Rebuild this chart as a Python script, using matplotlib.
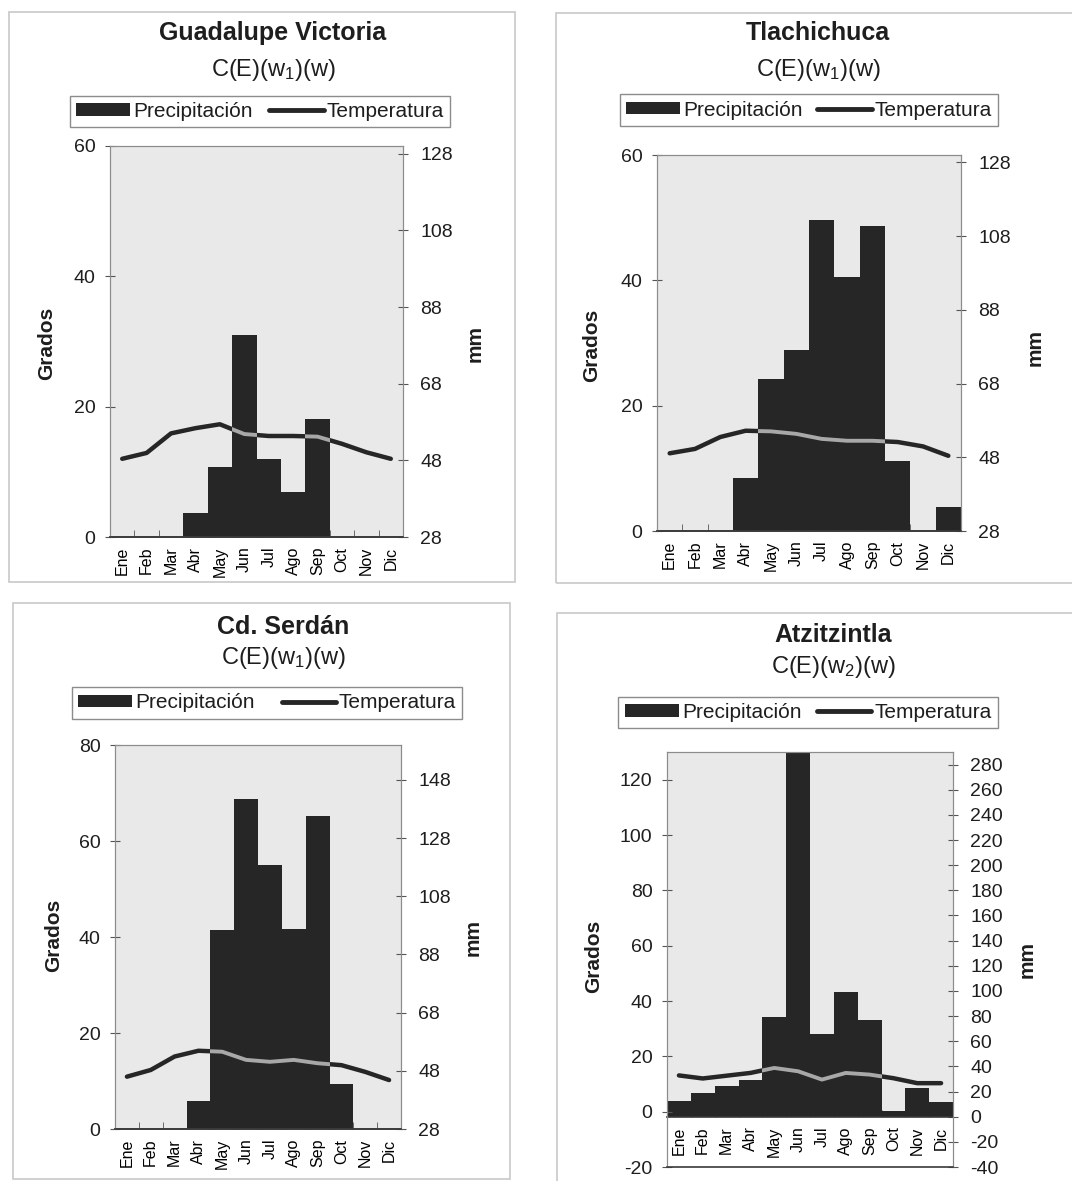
import numpy as np
import matplotlib.pyplot as plt
from matplotlib.patches import Rectangle, Patch
from matplotlib.lines import Line2D

plt.rcParams['font.family'] = ['Liberation Sans', 'DejaVu Sans']
plt.rcParams['mathtext.fontset'] = 'custom'
plt.rcParams['mathtext.rm'] = 'Liberation Sans'
plt.rcParams['mathtext.it'] = 'Liberation Sans'
plt.rcParams['axes.unicode_minus'] = False
plt.rcParams['text.color'] = '#1e1e1e'

meses = ["Ene", "Feb", "Mar", "Abr", "May", "Jun", "Jul", "Ago", "Sep", "Oct", "Nov", "Dic"]

# Guadalupe Victoria (precipitacion en mm, temperatura en grados)
gv_prec = [12, 10, 15, 34.2, 46.3, 80.6, 48.3, 39.8, 58.8, 22, 9, 7]
gv_temp = [12.0, 12.9, 15.9, 16.7, 17.3, 15.8, 15.5, 15.5, 15.4, 14.3, 13.0, 12.0]

# Tlachichuca
tl_prec = [14, 10, 18, 42.4, 69.3, 77.0, 112.5, 96.8, 110.7, 47.0, 20, 34.5]
tl_temp = [12.4, 13.1, 15.0, 16.0, 15.9, 15.5, 14.7, 14.4, 14.4, 14.2, 13.5, 12.0]

# Cd. Serdan
cs_prec = [12, 9, 16, 37.7, 96.4, 141.3, 118.8, 96.7, 135.5, 43.4, 14, 8]
cs_temp = [10.9, 12.3, 15.1, 16.3, 16.1, 14.4, 14.0, 14.4, 13.7, 13.3, 11.9, 10.2]

# Atzitzintla
at_prec = [12.4, 19.1, 24.4, 29.2, 79.4, 300, 66.1, 99.3, 76.7, 4.5, 22.5, 12.0]
at_temp = [13.1, 12.0, 13.0, 14.0, 15.8, 14.6, 11.6, 14.0, 13.4, 12.1, 10.3, 10.3]

W, H = 1072, 1181
fig = plt.figure(figsize=(W / 100, H / 100), dpi=100)

OSCURO = '#262626'
FONDO = '#e9e9e9'
GRIS = '#8c8c8c'


def fx(px):
    return px / W


def fy(py):
    return 1 - py / H


def climograma(caja, marco, titulo, clima, prec, temp, lim_t, ticks_t, lim_p, ticks_p,
               pos_tit, pos_ley, sep_ley, pos_grados, pos_mm, cero=False):
    # marco del panel
    x0, y0, x1, y1 = marco
    fig.patches.append(Rectangle((fx(x0), fy(y1)), (x1 - x0) / W, (y1 - y0) / H,
                                 transform=fig.transFigure, fill=False,
                                 edgecolor='#c8c8c8', lw=1.2))
    x0, y0, x1, y1 = caja
    ax_p = fig.add_axes([fx(x0), fy(y1), (x1 - x0) / W, (y1 - y0) / H], facecolor=FONDO)
    ax_t = ax_p.twinx()
    ax_p.yaxis.tick_right()
    ax_t.yaxis.tick_left()

    x = np.arange(12)
    barras = ax_p.bar(x, prec, width=1.0, color=OSCURO, linewidth=0, zorder=2)
    ax_p.set_xlim(-0.5, 11.5)
    ax_p.set_ylim(lim_p)
    ax_p.set_yticks(ticks_p)
    ax_t.set_ylim(lim_t)
    ax_t.set_yticks(ticks_t)
    if cero:
        ax_p.axhspan(lim_p[0], 0, color='white', zorder=0)
        ax_p.spines['bottom'].set_position(('data', 0))

    ax_t.plot(x, temp, color=OSCURO, lw=3.2, solid_capstyle='round', zorder=3)
    # la linea se ve clara donde pasa sobre las barras
    for b in barras:
        gris, = ax_t.plot(x, temp, color='#a8a8a8', lw=2.8, zorder=4)
        gris.set_clip_path(b)

    ax_p.set_xticks(x)
    ax_p.set_xticklabels(meses, rotation=90, fontsize=11.5)
    ax_p.tick_params(axis='x', which='major', length=0, pad=7)
    ax_p.set_xticks(np.arange(-0.5, 12, 1), minor=True)
    ax_p.tick_params(axis='x', which='minor', direction='in', length=5, color='#555555')
    ax_p.tick_params(axis='y', direction='inout', length=7, pad=9, labelsize=14,
                     color='#555555', labelcolor='#1e1e1e')
    ax_t.tick_params(axis='y', direction='inout', length=7, pad=7, labelsize=14,
                     color='#555555', labelcolor='#1e1e1e')

    for a in (ax_p, ax_t):
        for lado in ('left', 'right', 'top'):
            a.spines[lado].set_color(GRIS)
        a.spines['bottom'].set_color('#3a3a3a')
        a.spines['bottom'].set_linewidth(1.2)

    ax_t.text(pos_grados[0], pos_grados[1], 'Grados', rotation=90, ha='center', va='center',
              fontsize=15, fontweight='bold', transform=ax_t.transAxes)
    ax_t.text(pos_mm[0], pos_mm[1], 'mm', rotation=90, ha='center', va='center',
              fontsize=15, fontweight='bold', transform=ax_t.transAxes)

    fig.text(fx(pos_tit[0]), fy(pos_tit[1]), titulo, ha='center', va='center',
             fontsize=18, fontweight='bold')
    fig.text(fx(pos_tit[0]), fy(pos_tit[2]), clima, ha='center', va='center', fontsize=17)

    manijas = [Patch(facecolor=OSCURO, edgecolor='none'),
               Line2D([], [], color=OSCURO, lw=3.5, solid_capstyle='round')]
    ax_p.legend(manijas, ['Precipitación', 'Temperatura'], loc='center',
                bbox_to_anchor=(fx(pos_ley[0]), fy(pos_ley[1])), bbox_transform=fig.transFigure,
                ncol=2, fontsize=15, fancybox=False, framealpha=1, edgecolor=GRIS,
                handlelength=2.6, handleheight=0.55, handletextpad=0.15,
                columnspacing=sep_ley, borderpad=0.3, borderaxespad=0)
    return ax_p, ax_t


climograma((110, 146, 403, 537), (9, 12, 515, 582), 'Guadalupe Victoria',
           r'C(E)(w$_1$)(w)', gv_prec, gv_temp, (0, 60), [0, 20, 40, 60],
           (28, 130), [28, 48, 68, 88, 108, 128], (273, 33, 70), (260, 111.5), 0.8,
           (-0.215, 0.496), (1.246, 0.496))

climograma((657, 155, 961, 531), (556, 13, 1090, 583), 'Tlachichuca',
           r'C(E)(w$_1$)(w)', tl_prec, tl_temp, (0, 60), [0, 20, 40, 60],
           (28, 130), [28, 48, 68, 88, 108, 128], (818, 33, 70), (809, 110), 0.7,
           (-0.216, 0.495), (1.245, 0.487))

climograma((115, 745, 401, 1129), (13, 603, 510, 1179), 'Cd. Serdán',
           r'C(E)(w$_1$)(w)', cs_prec, cs_temp, (0, 80), [0, 20, 40, 60, 80],
           (28, 160), [28, 48, 68, 88, 108, 128, 148], (283, 627, 658), (267, 703), 1.3,
           (-0.216, 0.505), (1.253, 0.5))

climograma((667, 752, 953, 1167), (557, 613, 1090, 1195), 'Atzitzintla',
           r'C(E)(w$_2$)(w)', at_prec, at_temp, (-20, 130), list(range(-20, 121, 20)),
           (-40, 290), list(range(-40, 281, 20)), (833, 635, 667), (808, 712.5), 0.75,
           (-0.256, 0.507), (1.26, 0.5), cero=True)

fig.savefig('out.png', dpi=100)
